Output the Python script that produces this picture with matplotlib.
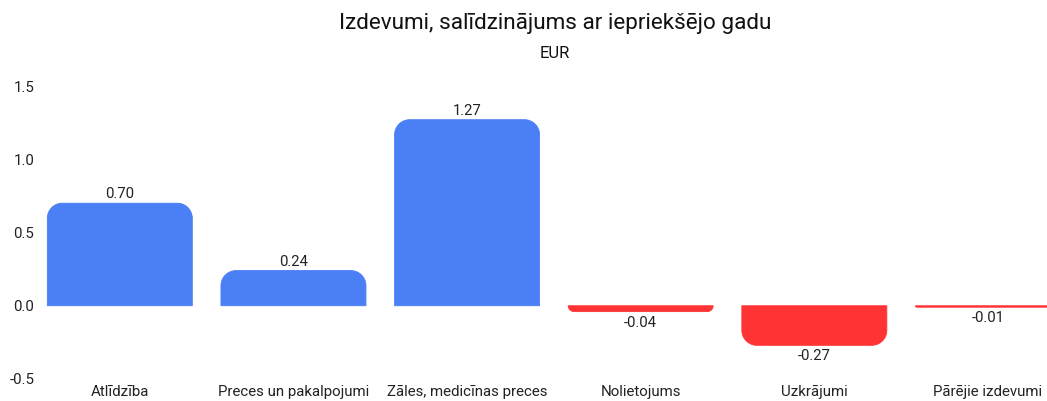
import numpy as np
import matplotlib.pyplot as plt
from matplotlib.path import Path
from matplotlib.patches import PathPatch

plt.rcParams['font.family'] = ['Roboto', 'DejaVu Sans']

# Data
categories = ["Atlīdzība", "Preces un pakalpojumi", "Zāles, medicīnas preces",
              "Nolietojums", "Uzkrājumi", "Pārējie izdevumi"]
values = [0.70, 0.24, 1.27, -0.04, -0.27, -0.01]
labels = ["0.70", "0.24", "1.27", "-0.04", "-0.27", "-0.01"]

blue = "#4a7ff5"
red = "#ff3333"

fig = plt.figure(figsize=(10.47, 4.01), dpi=100)
ax = fig.add_axes([33/1047, 22/401, 1 - 33/1047, 293/401])
ax.set_xlim(-0.5, 5.34)
ax.set_ylim(-0.5, 1.5)

# pixel scale for rounded corners
px_x = (1047 - 33) / 5.84
px_y = 293 / 2.0
width = 0.835
r_px = 15


def rounded_bar(xc, h, color):
    x0, x1 = xc - width/2, xc + width/2
    rpx = min(r_px, abs(h) * px_y)
    rx = rpx / px_x
    ry = rpx / px_y * np.sign(h)
    k = 0.5523
    verts = [(x0, 0), (x0, h - ry),
             (x0, h - ry + k*ry), (x0 + rx - k*rx, h), (x0 + rx, h),
             (x1 - rx, h),
             (x1 - rx + k*rx, h), (x1, h - ry + k*ry), (x1, h - ry),
             (x1, 0), (x0, 0)]
    codes = [Path.MOVETO, Path.LINETO,
             Path.CURVE4, Path.CURVE4, Path.CURVE4,
             Path.LINETO,
             Path.CURVE4, Path.CURVE4, Path.CURVE4,
             Path.LINETO, Path.CLOSEPOLY]
    ax.add_patch(PathPatch(Path(verts, codes), facecolor=color, edgecolor=color,
                           lw=0.6))


for i, v in enumerate(values):
    c = blue if v >= 0 else red
    rounded_bar(i, v, c)
    if v >= 0:
        ax.annotate(labels[i], (i, v), xytext=(0, 1.5), textcoords="offset points",
                    ha="center", va="bottom", fontsize=10.7, color="#222222")
    else:
        ax.annotate(labels[i], (i, v), xytext=(0, -3), textcoords="offset points",
                    ha="center", va="top", fontsize=10.7, color="#222222")

ax.set_xticks(range(len(categories)))
ax.set_xticklabels(categories, fontsize=10.8, color="#222222")
ax.set_yticks([-0.5, 0.0, 0.5, 1.0, 1.5])
ax.set_yticklabels(["-0.5", "0.0", "0.5", "1.0", "1.5"], fontsize=10.8, color="#222222")
ax.tick_params(axis="both", length=0)
ax.tick_params(axis="x", pad=4)
ax.tick_params(axis="y", pad=-1)
for s in ax.spines.values():
    s.set_visible(False)

# title centred over the full plot area (which runs past the right edge)
xc = 555 / 1047
fig.text(xc, 1 - 23/401, "Izdevumi, salīdzinājums ar iepriekšējo gadu",
         ha="center", va="center", fontsize=16.2, color="#111111")
fig.text(xc, 1 - 54/401, "EUR", ha="center", va="center", fontsize=12,
         color="#111111")

fig.savefig("out.png", dpi=100)
